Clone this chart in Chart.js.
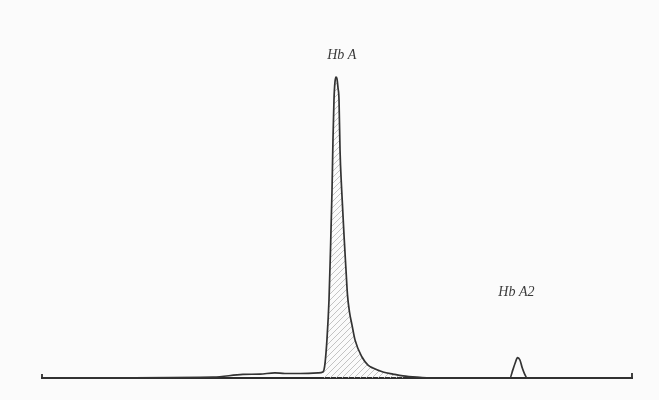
<!DOCTYPE html>
<html><head><meta charset="utf-8">
<script src="https://cdn.jsdelivr.net/npm/chart.js@4/dist/chart.umd.min.js"></script>
<style>html,body{margin:0;padding:0;background:#fbfbfb}#wrap{width:659px;height:400px}</style>
</head><body><div id="wrap"><canvas id="c" width="659" height="400"></canvas></div>
<script>
// Retention time (arbitrary units, 0..100) and detector signal (0..100)
const retentionTime = [0, 29.1, 34.1, 37.0, 39.5, 41.2, 43.8, 46.8, 47.6, 47.8, 48.0, 48.3, 48.65, 48.9, 49.16, 49.32, 49.49, 49.66, 49.83, 50.0, 50.17, 50.34, 50.51, 50.79, 51.23, 51.52, 51.77, 52.11, 52.53, 53.04, 54.22, 55.24, 56.08, 57.77, 59.46, 61.15, 64.0, 65.7, 79.2, 79.7, 80.1, 80.5, 80.9, 81.3, 81.7, 82.1, 100];
const signal        = [0, 0.3, 1.2, 1.3, 1.7, 1.5, 1.5, 1.7, 2.0, 2.7, 5.3, 12.7, 26.0, 42.7, 62.7, 79.3, 92.7, 98.7, 100.3, 99.7, 96.7, 92.7, 76.0, 62.7, 46.0, 36.0, 27.7, 22.0, 17.7, 12.7, 7.0, 4.3, 3.3, 2.0, 1.3, 0.7, 0.2, 0, 0, 2.7, 5.0, 6.8, 6.0, 3.3, 1.3, 0, 0];
const peakNames   = ['Hb A', 'Hb A2'];
const labelTime   = [50.8, 80.3];
const labelSignal = [107.7, 28.7];
const hatchFrom = 47.6, hatchTo = 61.2;

const tracePoints = retentionTime.map((t, i) => ({x: t, y: signal[i]}));
const hatchPoints = tracePoints.filter(p => p.x >= hatchFrom && p.x <= hatchTo);

function makeHatch() {
  const s = 6, pc = document.createElement('canvas');
  pc.width = s; pc.height = s;
  const g = pc.getContext('2d');
  g.strokeStyle = '#bdbdbd'; g.lineWidth = 0.9;
  g.beginPath();
  g.moveTo(0, s); g.lineTo(s, 0);
  g.moveTo(-1, 1); g.lineTo(1, -1);
  g.moveTo(s - 1, s + 1); g.lineTo(s + 1, s - 1);
  g.stroke();
  return g.createPattern(pc, 'repeat');
}

const axisPlugin = {
  id: 'axisPlugin',
  beforeDatasetsDraw(chart) {
    const {ctx, scales: {x, y}} = chart;
    const y0 = y.getPixelForValue(0);
    const xa = x.getPixelForValue(x.min), xb = x.getPixelForValue(x.max);
    ctx.save();
    ctx.strokeStyle = '#2e2e2e'; ctx.lineWidth = 1.8;
    ctx.beginPath();
    ctx.moveTo(xa, y0); ctx.lineTo(xb, y0);
    ctx.moveTo(xa + 1, y0 - 4); ctx.lineTo(xa + 1, y0 + 1);
    ctx.moveTo(xb - 1, y0 - 5); ctx.lineTo(xb - 1, y0 + 0.5);
    ctx.stroke();
    ctx.restore();
  },
  afterDatasetsDraw(chart) {
    const {ctx, scales: {x, y}} = chart;
    ctx.save();
    ctx.fillStyle = '#3a3a3a';
    ctx.font = 'italic 14px "Liberation Serif", "DejaVu Serif", serif';
    ctx.textAlign = 'center'; ctx.textBaseline = 'middle';
    peakNames.forEach((n, i) => ctx.fillText(n, x.getPixelForValue(labelTime[i]), y.getPixelForValue(labelSignal[i])));
    ctx.restore();
  }
};

new Chart(document.getElementById('c'), {
  type: 'line',
  data: {
    datasets: [
      { data: hatchPoints, borderWidth: 0, pointRadius: 0, fill: 'origin', backgroundColor: makeHatch(), tension: 0, order: 2 },
      { data: tracePoints, borderColor: '#333333', borderWidth: 1.7, pointRadius: 0, fill: false, cubicInterpolationMode: 'monotone', clip: false, order: 1 }
    ]
  },
  options: {
    responsive: false, animation: false, devicePixelRatio: 1,
    layout: {padding: {left: 41, right: 26, top: 78, bottom: 22}},
    plugins: {legend: {display: false}, tooltip: {enabled: false}},
    scales: {
      x: {type: 'linear', min: 0, max: 100, display: false},
      y: {type: 'linear', min: 0, max: 100, display: false}
    }
  },
  plugins: [axisPlugin]
});
</script></body></html>
